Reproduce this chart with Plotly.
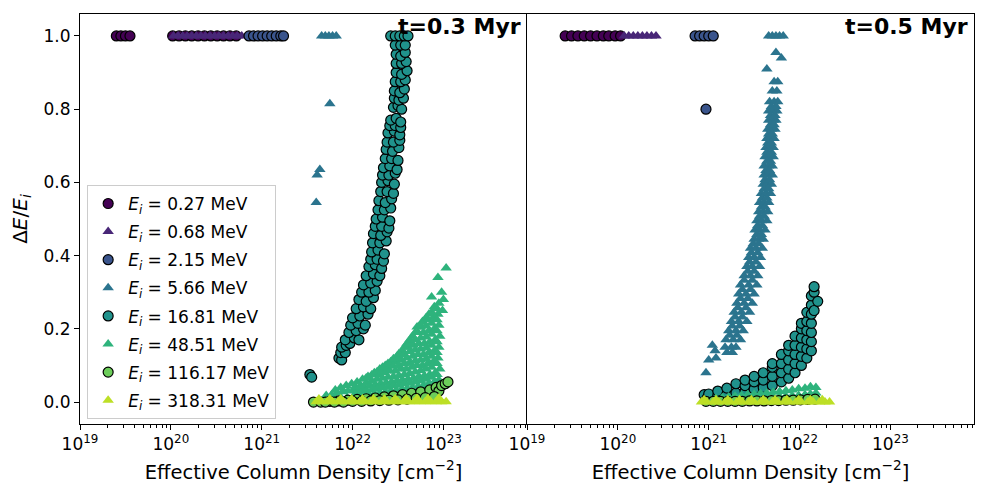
import numpy as np
import plotly.graph_objects as go
from plotly.subplots import make_subplots

energies = ["0.27", "0.68", "2.15", "5.66", "16.81", "48.51", "116.17", "318.31"]
colors = ["#440154", "#482677", "#3a548c", "#2b748e", "#20928c", "#2eb37c", "#6ccd5a", "#bddf26"]
symbols = ["circle", "triangle-up"] * 4

decades = [19, 20, 21, 22, 23]
tick_labels = ["10<sup>19</sup>", "10<sup>20</sup>", "10<sup>21</sup>", "10<sup>22</sup>", "10<sup>23</sup>"]

# x values are log10 of the effective column density [cm^-2]

# ---- t = 0.3 Myr ----
x03_e027 = [19.40, 19.45, 19.50, 19.55, 20.02, 20.09, 20.16, 20.23, 20.30, 20.37,
            20.44, 20.51, 20.58, 20.65, 20.72]
y03_e027 = [1.0, 1.0, 1.0, 1.0, 1.0, 1.0, 1.0, 1.0, 1.0, 1.0, 1.0, 1.0, 1.0, 1.0, 1.0]

x03_e068 = [20.03, 20.08, 20.13, 20.18, 20.23, 20.28, 20.33, 20.38, 20.43, 20.48,
            20.53, 20.58, 20.63, 20.68, 20.73, 20.78]
y03_e068 = [1.0, 1.0, 1.0, 1.0, 1.0, 1.0, 1.0, 1.0, 1.0, 1.0, 1.0, 1.0, 1.0, 1.0, 1.0, 1.0]

x03_e215 = [20.86, 20.91, 20.96, 21.01, 21.06, 21.11, 21.16, 21.21, 21.24]
y03_e215 = [1.0, 1.0, 1.0, 1.0, 1.0, 1.0, 1.0, 1.0, 1.0]

x03_e566 = [21.66, 21.70, 21.74, 21.78, 21.82, 21.75, 21.61, 21.64, 21.60]
y03_e566 = [1.0, 1.0, 1.0, 1.0, 1.0, 0.815, 0.62, 0.635, 0.545]

x03_e1681 = [
    21.53, 21.55,
    21.85, 21.88,
    21.87, 21.92,
    21.88, 21.93, 21.97,
    21.92, 22.02, 22.07,
    21.96, 22.04, 22.12,
    21.98, 22.06, 22.14,
    22.00, 22.08, 22.17,
    22.04, 22.12, 22.20,
    22.07, 22.15, 22.23,
    22.10, 22.18, 22.25,
    22.12, 22.20, 22.27,
    22.15, 22.23, 22.30,
    22.18, 22.25, 22.32,
    22.20, 22.27, 22.34,
    22.21, 22.28, 22.35,
    22.22, 22.30, 22.37,
    22.23, 22.31, 22.38,
    22.25, 22.32, 22.40,
    22.26, 22.33, 22.41,
    22.28, 22.35, 22.42,
    22.29, 22.36, 22.43,
    22.31, 22.38, 22.45,
    22.32, 22.39, 22.46,
    22.33, 22.40, 22.47,
    22.34, 22.41, 22.49,
    22.36, 22.43, 22.50,
    22.37, 22.44, 22.51,
    22.38, 22.45, 22.52,
    22.39, 22.46, 22.52,
    22.41, 22.47, 22.53,
    22.42, 22.48, 22.53,
    22.45, 22.50, 22.54,
    22.46, 22.51, 22.56,
    22.46, 22.52, 22.57,
    22.47, 22.53, 22.58,
    22.48, 22.54, 22.60,
    22.48, 22.54, 22.59,
    22.48, 22.53, 22.58,
    22.47, 22.53, 22.58,
    22.42, 22.47, 22.52, 22.57, 22.61,
]
y03_e1681 = [
    0.075, 0.068,
    0.12, 0.115,
    0.135, 0.135,
    0.15, 0.155, 0.16,
    0.17, 0.175, 0.17,
    0.19, 0.195, 0.20,
    0.21, 0.215, 0.21,
    0.23, 0.235, 0.24,
    0.255, 0.26, 0.255,
    0.28, 0.275, 0.285,
    0.30, 0.30, 0.305,
    0.32, 0.325, 0.33,
    0.345, 0.35, 0.345,
    0.37, 0.375, 0.365,
    0.39, 0.39, 0.385,
    0.41, 0.415, 0.405,
    0.435, 0.435, 0.44,
    0.46, 0.455, 0.465,
    0.48, 0.48, 0.475,
    0.50, 0.505, 0.495,
    0.525, 0.525, 0.53,
    0.55, 0.545, 0.555,
    0.575, 0.575, 0.57,
    0.60, 0.605, 0.595,
    0.62, 0.62, 0.625,
    0.64, 0.645, 0.635,
    0.665, 0.665, 0.66,
    0.69, 0.685, 0.695,
    0.71, 0.71, 0.715,
    0.735, 0.74, 0.73,
    0.755, 0.755, 0.75,
    0.77, 0.775, 0.765,
    0.805, 0.81, 0.80,
    0.83, 0.825, 0.83,
    0.85, 0.845, 0.855,
    0.875, 0.875, 0.88,
    0.90, 0.895, 0.905,
    0.925, 0.925, 0.93,
    0.95, 0.945, 0.955,
    0.975, 0.975, 0.975,
    1.0, 1.0, 1.0, 1.0, 1.0,
]

x03_e4851 = [
    21.62,
    21.70, 21.71,
    21.76, 21.77,
    21.82, 21.83, 21.81,
    21.88, 21.89, 21.87,
    21.94, 21.95, 21.93,
    22.00, 22.01, 21.99,
    22.06, 22.07, 22.05,
    22.12, 22.13, 22.11,
    22.18, 22.19, 22.17,
    22.24, 22.25, 22.23, 22.24,
    22.30, 22.31, 22.29, 22.30,
    22.36, 22.37, 22.35, 22.36,
    22.42, 22.43, 22.41, 22.42,
    22.48, 22.49, 22.47, 22.48, 22.49,
    22.54, 22.55, 22.53, 22.54, 22.55,
    22.60, 22.61, 22.59, 22.60, 22.61, 22.60,
    22.66, 22.67, 22.65, 22.66, 22.67, 22.66,
    22.72, 22.73, 22.71, 22.72, 22.73, 22.72, 22.71,
    22.78, 22.79, 22.77, 22.78, 22.79, 22.78, 22.77,
    22.84, 22.85, 22.83, 22.84, 22.85, 22.84, 22.83, 22.84,
    22.90, 22.91, 22.89, 22.90, 22.91, 22.90, 22.89, 22.90,
    22.95, 22.96, 22.94, 22.95, 22.96, 22.95, 22.94, 22.95,
    22.87, 23.00, 22.94, 23.03, 22.98, 22.99,
    22.03, 22.03,
    22.09, 22.09,
    22.15, 22.15, 22.15,
    22.21, 22.21, 22.21,
    22.27, 22.27, 22.27,
    22.33, 22.33, 22.33, 22.33,
    22.39, 22.39, 22.39, 22.39,
    22.45, 22.45, 22.45, 22.45,
    22.51, 22.51, 22.51, 22.51, 22.51,
    22.57, 22.57, 22.57, 22.57, 22.57,
    22.63, 22.63, 22.63, 22.63, 22.63, 22.63,
    22.69, 22.69, 22.69, 22.69, 22.69, 22.69,
    22.75, 22.75, 22.75, 22.75, 22.75, 22.75, 22.75,
    22.81, 22.81, 22.81, 22.81, 22.81, 22.81, 22.81,
    22.87, 22.87, 22.87, 22.87, 22.87, 22.87, 22.87,
    22.93, 22.93, 22.93, 22.93, 22.93, 22.93, 22.93,
]
y03_e4851 = [
    0.0,
    0.005, 0.018,
    0.005, 0.02,
    0.008, 0.025, 0.033,
    0.01, 0.028, 0.04,
    0.012, 0.03, 0.045,
    0.012, 0.032, 0.05,
    0.015, 0.035, 0.055,
    0.018, 0.04, 0.062,
    0.02, 0.045, 0.07,
    0.022, 0.048, 0.075, 0.08,
    0.025, 0.05, 0.075, 0.09,
    0.027, 0.053, 0.08, 0.10,
    0.03, 0.055, 0.085, 0.11,
    0.032, 0.058, 0.085, 0.11, 0.125,
    0.035, 0.06, 0.09, 0.115, 0.14,
    0.037, 0.062, 0.09, 0.12, 0.15, 0.16,
    0.04, 0.065, 0.095, 0.125, 0.155, 0.18,
    0.042, 0.07, 0.10, 0.13, 0.16, 0.19, 0.205,
    0.045, 0.072, 0.10, 0.13, 0.16, 0.19, 0.22,
    0.05, 0.075, 0.105, 0.135, 0.165, 0.195, 0.225, 0.24,
    0.055, 0.08, 0.11, 0.14, 0.17, 0.20, 0.23, 0.26,
    0.06, 0.09, 0.12, 0.15, 0.18, 0.21, 0.24, 0.27,
    0.287, 0.28, 0.34, 0.366, 0.30, 0.25,
    0.022, 0.042,
    0.025, 0.045,
    0.03, 0.052, 0.066,
    0.033, 0.058, 0.074,
    0.036, 0.062, 0.083,
    0.04, 0.065, 0.085, 0.095,
    0.042, 0.068, 0.09, 0.105,
    0.045, 0.07, 0.098, 0.118,
    0.047, 0.072, 0.10, 0.122, 0.132,
    0.05, 0.075, 0.105, 0.13, 0.15,
    0.052, 0.078, 0.108, 0.138, 0.16, 0.17,
    0.055, 0.082, 0.112, 0.142, 0.17, 0.19,
    0.058, 0.086, 0.115, 0.145, 0.175, 0.205, 0.21,
    0.062, 0.09, 0.118, 0.148, 0.178, 0.208, 0.23,
    0.068, 0.095, 0.125, 0.155, 0.185, 0.215, 0.245,
    0.075, 0.105, 0.135, 0.165, 0.195, 0.225, 0.255,
]

x03_e11617 = [21.57, 21.65, 21.75, 21.85, 21.95, 22.05, 22.15, 22.25, 22.35, 22.45,
              22.55, 22.65, 22.75, 22.85, 22.92, 22.95, 22.98, 23.02, 23.05,
              21.70, 21.80, 21.90, 22.00, 22.10, 22.20, 22.30, 22.40, 22.50, 22.60,
              22.70, 22.80, 22.90]
y03_e11617 = [0.0, 0.0, 0.002, 0.003, 0.005, 0.007, 0.009, 0.011, 0.014, 0.017,
              0.02, 0.024, 0.028, 0.033, 0.04, 0.03, 0.045, 0.05, 0.055,
              0.0, 0.0, 0.0, 0.002, 0.002, 0.003, 0.004, 0.005, 0.006, 0.008,
              0.01, 0.012, 0.015]

x03_e31831 = [21.60, 21.66, 21.72, 21.78, 21.84, 21.90, 21.96, 22.02, 22.08, 22.14,
              22.20, 22.26, 22.32, 22.38, 22.44, 22.50, 22.56, 22.62, 22.68, 22.74,
              22.80, 22.86, 22.92, 22.98, 23.03,
              21.63, 21.75, 21.87, 21.99, 22.11, 22.23, 22.35, 22.47, 22.59, 22.71,
              22.83, 22.95]
y03_e31831 = [0.001, 0.001, 0.001, 0.001, 0.001, 0.001, 0.001, 0.001, 0.001, 0.001,
              0.001, 0.001, 0.001, 0.001, 0.001, 0.001, 0.001, 0.001, 0.001, 0.001,
              0.001, 0.001, 0.001, 0.001, 0.001,
              0.008, 0.008, 0.008, 0.008, 0.008, 0.008, 0.008, 0.009, 0.009, 0.010,
              0.010, 0.011]

# ---- t = 0.5 Myr ----
x05_e027 = [19.42, 19.49, 19.56, 19.63, 19.70, 19.77, 19.84, 19.90, 19.97, 20.03]
y05_e027 = [1.0, 1.0, 1.0, 1.0, 1.0, 1.0, 1.0, 1.0, 1.0, 1.0]

x05_e068 = [20.07, 20.12, 20.17, 20.22, 20.27, 20.32, 20.37, 20.42]
y05_e068 = [1.0, 1.0, 1.0, 1.0, 1.0, 1.0, 1.0, 1.0]

x05_e215 = [20.85, 20.90, 20.95, 21.00, 21.05, 20.97]
y05_e215 = [1.0, 1.0, 1.0, 1.0, 1.0, 0.80]

x05_e566 = [
    21.66, 21.70, 21.74, 21.78, 21.82,
    21.74, 21.80, 21.64,
    21.72, 21.76, 21.70, 21.75,
    21.67, 21.72, 21.76, 21.66, 21.71, 21.75,
    21.66, 21.71, 21.74, 21.65, 21.69, 21.73,
    21.64, 21.68, 21.72, 21.63, 21.67, 21.71,
    21.62, 21.66, 21.71, 21.61, 21.66, 21.70,
    21.61, 21.65, 21.70, 21.60, 21.64, 21.69,
    21.58, 21.63, 21.68, 21.56, 21.61, 21.66,
    21.55, 21.60, 21.65, 21.53, 21.58, 21.64,
    21.51, 21.56, 21.62, 21.50, 21.55, 21.60,
    21.46, 21.52, 21.59, 21.44, 21.50, 21.57,
    21.42, 21.48, 21.56, 21.39, 21.46, 21.54,
    21.35, 21.44, 21.53, 21.33, 21.41, 21.50,
    21.31, 21.39, 21.48, 21.28, 21.36, 21.45,
    21.25, 21.33, 21.42, 21.22, 21.30, 21.38,
    21.19, 21.27, 21.35, 21.18, 21.25, 21.30,
    21.20, 21.26,
    21.04, 21.07, 21.08, 21.00, 20.97,
    21.69, 21.74, 21.68, 21.73, 21.68, 21.72, 21.66, 21.70, 21.65, 21.69,
    21.64, 21.69, 21.64, 21.68, 21.63, 21.67, 21.62, 21.67, 21.61, 21.66,
    21.59, 21.64, 21.58, 21.62, 21.56, 21.61, 21.54, 21.59, 21.53, 21.58,
    21.49, 21.55, 21.47, 21.54, 21.45, 21.52, 21.43, 21.50, 21.39, 21.48,
    21.37, 21.46, 21.35, 21.43, 21.32, 21.41, 21.29, 21.37, 21.26, 21.34,
    21.23, 21.31,
]
y05_e566 = [
    1.0, 1.0, 1.0, 1.0, 1.0,
    0.955, 0.94, 0.91,
    0.875, 0.875, 0.85, 0.85,
    0.82, 0.82, 0.82, 0.795, 0.795, 0.795,
    0.77, 0.77, 0.77, 0.745, 0.745, 0.745,
    0.72, 0.72, 0.72, 0.695, 0.695, 0.695,
    0.67, 0.67, 0.67, 0.645, 0.645, 0.645,
    0.62, 0.62, 0.62, 0.595, 0.595, 0.595,
    0.57, 0.57, 0.57, 0.545, 0.545, 0.545,
    0.52, 0.52, 0.52, 0.495, 0.495, 0.495,
    0.47, 0.47, 0.47, 0.445, 0.445, 0.445,
    0.42, 0.42, 0.42, 0.395, 0.395, 0.395,
    0.37, 0.37, 0.37, 0.345, 0.345, 0.345,
    0.32, 0.32, 0.32, 0.295, 0.295, 0.295,
    0.27, 0.27, 0.27, 0.245, 0.245, 0.245,
    0.22, 0.22, 0.22, 0.195, 0.195, 0.195,
    0.17, 0.17, 0.17, 0.15, 0.15, 0.15,
    0.135, 0.135,
    0.155, 0.14, 0.12, 0.115, 0.08,
    0.8075, 0.8075, 0.7825, 0.7825, 0.7575, 0.7575, 0.7325, 0.7325, 0.7075, 0.7075,
    0.6825, 0.6825, 0.6575, 0.6575, 0.6325, 0.6325, 0.6075, 0.6075, 0.5825, 0.5825,
    0.5575, 0.5575, 0.5325, 0.5325, 0.5075, 0.5075, 0.4825, 0.4825, 0.4575, 0.4575,
    0.4325, 0.4325, 0.4075, 0.4075, 0.3825, 0.3825, 0.3575, 0.3575, 0.3325, 0.3325,
    0.3075, 0.3075, 0.2825, 0.2825, 0.2575, 0.2575, 0.2325, 0.2325, 0.2075, 0.2075,
    0.1825, 0.1825,
]

x05_e1681 = [
    20.95, 20.98,
    21.00, 21.00,
    21.10, 21.10,
    21.20, 21.20,
    21.30, 21.30,
    21.40, 21.40, 21.40,
    21.50, 21.50, 21.50,
    21.60, 21.60, 21.60,
    21.70, 21.70, 21.70, 21.70,
    21.80, 21.80, 21.80, 21.80,
    21.88, 21.88, 21.88, 21.88, 21.88,
    21.95, 21.95, 21.95, 21.95, 21.95,
    22.02, 22.02, 22.02, 22.02, 22.02, 22.02,
    22.08, 22.08, 22.08, 22.08, 22.08, 22.08,
    22.13, 22.13, 22.13, 22.13, 22.13, 22.13, 22.13,
    22.16, 22.16, 22.16,
    22.20,
]
y05_e1681 = [
    0.02, 0.01,
    0.015, 0.022,
    0.018, 0.03,
    0.02, 0.038,
    0.025, 0.05,
    0.03, 0.045, 0.06,
    0.035, 0.055, 0.07,
    0.04, 0.06, 0.08,
    0.045, 0.07, 0.095, 0.105,
    0.055, 0.08, 0.105, 0.13,
    0.065, 0.09, 0.115, 0.14, 0.155,
    0.08, 0.105, 0.13, 0.155, 0.18,
    0.10, 0.125, 0.15, 0.175, 0.20, 0.215,
    0.12, 0.145, 0.17, 0.195, 0.22, 0.245,
    0.14, 0.165, 0.19, 0.215, 0.24, 0.265, 0.29,
    0.30, 0.315, 0.25,
    0.275,
]

x05_e4851 = [20.95, 21.02, 21.08, 21.08, 21.15, 21.15, 21.22, 21.22, 21.29, 21.29,
             21.36, 21.36, 21.43, 21.43, 21.50, 21.50, 21.57, 21.57, 21.64, 21.64,
             21.71, 21.71, 21.78, 21.78, 21.85, 21.85, 21.92, 21.92, 21.99, 21.99,
             22.06, 22.06, 22.12, 22.12, 22.18, 22.18]
y05_e4851 = [0.003, 0.004, 0.005, 0.010, 0.006, 0.012, 0.007, 0.014, 0.008, 0.016,
             0.009, 0.018, 0.010, 0.020, 0.011, 0.021, 0.012, 0.023, 0.013, 0.025,
             0.014, 0.027, 0.015, 0.029, 0.016, 0.031, 0.017, 0.033, 0.018, 0.036,
             0.020, 0.038, 0.022, 0.042, 0.025, 0.040]

x05_e11617 = [20.97, 21.05, 21.13, 21.21, 21.29, 21.37, 21.45, 21.53, 21.61, 21.69,
              21.77, 21.85, 21.93, 22.01, 22.09, 22.17]
y05_e11617 = [0.002, 0.002, 0.002, 0.002, 0.002, 0.002, 0.003, 0.003, 0.003, 0.004,
              0.004, 0.005, 0.005, 0.006, 0.007, 0.008]

x05_e31831 = [20.92, 20.98, 21.05, 21.11, 21.18, 21.24, 21.31, 21.37, 21.44, 21.50,
              21.57, 21.63, 21.70, 21.76, 21.83, 21.89, 21.96, 22.02, 22.09, 22.15,
              22.22, 22.28, 22.33,
              20.95, 21.08, 21.21, 21.34, 21.47, 21.60, 21.73, 21.86, 21.99, 22.12,
              22.25]
y05_e31831 = [0.0, 0.0, 0.0, 0.0, 0.0, 0.0, 0.0, 0.0, 0.0, 0.0,
              0.0, 0.0, 0.0, 0.0, 0.0, 0.0, 0.0, 0.0, 0.0, 0.0,
              0.0, 0.0, 0.0,
              0.006, 0.006, 0.006, 0.006, 0.006, 0.006, 0.006, 0.006, 0.006, 0.006,
              0.006]

panel_03 = [(x03_e027, y03_e027), (x03_e068, y03_e068), (x03_e215, y03_e215),
            (x03_e566, y03_e566), (x03_e1681, y03_e1681), (x03_e4851, y03_e4851),
            (x03_e11617, y03_e11617), (x03_e31831, y03_e31831)]
panel_05 = [(x05_e027, y05_e027), (x05_e068, y05_e068), (x05_e215, y05_e215),
            (x05_e566, y05_e566), (x05_e1681, y05_e1681), (x05_e4851, y05_e4851),
            (x05_e11617, y05_e11617), (x05_e31831, y05_e31831)]
panel_titles = ["t=0.3 Myr", "t=0.5 Myr"]

font = "DejaVu Sans"

fig = make_subplots(rows=1, cols=2, shared_yaxes=True, horizontal_spacing=0)

for col, panel in enumerate([panel_03, panel_05], start=1):
    for i, (xs, ys) in enumerate(panel):
        circle = symbols[i] == "circle"
        fig.add_trace(
            go.Scatter(
                x=np.power(10.0, xs),
                y=ys,
                mode="markers",
                name=f"<i>E<sub>i</sub></i> = {energies[i]} MeV",
                legendgroup=energies[i],
                showlegend=(col == 1),
                marker=dict(
                    symbol=symbols[i],
                    size=10,
                    color=colors[i],
                    line=dict(color="black", width=1.2 if circle else 0),
                ),
            ),
            row=1,
            col=col,
        )

major_vals = [10.0**k for k in decades]
minor_vals = [m * 10.0**k for k in decades for m in range(2, 10)]

for col in (1, 2):
    fig.update_xaxes(
        type="log",
        range=[19, 23.92],
        tickmode="array",
        tickvals=major_vals,
        ticktext=tick_labels,
        ticks="outside",
        ticklen=5,
        tickcolor="black",
        tickfont=dict(family=font, size=17, color="black"),
        showline=True,
        linecolor="black",
        linewidth=1,
        mirror=True,
        showgrid=False,
        zeroline=False,
        minor=dict(ticks="outside", ticklen=3, tickcolor="black", tickvals=minor_vals, showgrid=False),
        title=dict(text="Effective Column Density [cm<sup>−2</sup>]",
                   font=dict(family=font, size=19.5, color="black"), standoff=11),
        row=1,
        col=col,
    )

# left panel: only its own left spine; the shared middle line comes from the right panel
fig.update_yaxes(
    range=[-0.06, 1.06],
    dtick=0.2,
    tickformat=".1f",
    ticks="outside",
    ticklen=5,
    tickcolor="black",
    tickfont=dict(family=font, size=17, color="black"),
    showline=True,
    linecolor="black",
    linewidth=1,
    mirror=False,
    showgrid=False,
    zeroline=False,
    title=dict(text="Δ<i>E</i>/<i>E<sub>i</sub></i>", font=dict(family=font, size=20, color="black"),
               standoff=12),
    row=1,
    col=1,
)
fig.update_yaxes(showline=True, linecolor="black", linewidth=1, mirror=True, showgrid=False,
                 zeroline=False, ticks="", showticklabels=False, row=1, col=2)

for col, text in enumerate(panel_titles, start=1):
    fig.add_annotation(
        text=f"<b>{text}</b>",
        xref="x domain" if col == 1 else "x2 domain",
        yref="y domain" if col == 1 else "y2 domain",
        x=0.99,
        y=1.0,
        xanchor="right",
        yanchor="top",
        yshift=2,
        showarrow=False,
        font=dict(family=font, size=22, color="black"),
    )

# the page is drawn with an 8px body offset, margins compensate for it
fig.update_layout(
    width=1000,
    height=500,
    margin=dict(l=72, r=34, t=6, b=84),
    plot_bgcolor="white",
    paper_bgcolor="white",
    font=dict(family=font, color="black"),
    legend=dict(
        x=0.008,
        y=0.583,
        xanchor="left",
        yanchor="top",
        bgcolor="rgba(255,255,255,0.8)",
        bordercolor="#cccccc",
        borderwidth=1,
        font=dict(family=font, size=17, color="black"),
        tracegroupgap=3,
    ),
)

fig.write_html("out.html")
